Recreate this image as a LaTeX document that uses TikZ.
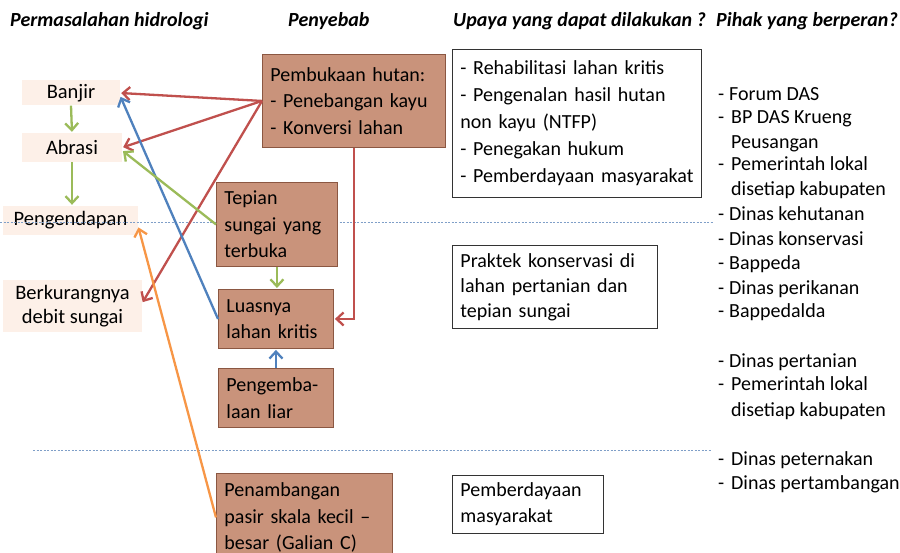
\documentclass[tikz,border=0pt]{standalone}
\usepackage{fontspec}
\setmainfont{Carlito}
\usetikzlibrary{arrows.meta,calc}
\definecolor{cred}{HTML}{C0504D}
\definecolor{cblue}{HTML}{4F81BD}
\definecolor{cgreen}{HTML}{9BBB59}
\definecolor{corange}{HTML}{F79646}
\definecolor{pinkfill}{HTML}{FDF0E8}
\definecolor{brownfill}{HTML}{C9937B}
\definecolor{brownline}{HTML}{8B5742}
\definecolor{dashcol}{HTML}{7F9FC8}
\begin{document}
\begin{tikzpicture}[x=1pt,y=-1pt,
  every node/.style={font=\fontsize{20}{27}\selectfont},
  pinkbox/.style={fill=pinkfill, draw=none, inner sep=0pt, align=center,
    font=\fontsize{20.5}{24}\selectfont},
  brownbox/.style={fill=brownfill, draw=brownline, line width=0.9pt, inner sep=0pt,
    inner xsep=8pt, align=left, anchor=north west, font=\fontsize{20}{26.5}\selectfont},
  whitebox/.style={fill=white, draw=black!80, line width=0.9pt, inner sep=0pt,
    inner xsep=8pt, align=left, anchor=north west},
  heading/.style={anchor=base west, inner sep=0pt, font=\fontsize{20}{24}\selectfont\bfseries\itshape},
  item/.style={anchor=base west, inner sep=0pt},
  arr/.style={line width=2.3pt, -{Straight Barb[length=7pt,width=13pt]}, shorten >=1pt},
  divider/.style={dashcol, line width=0.6pt, dash pattern=on 2pt off 1.5pt}]
\useasboundingbox (0,0) rectangle (900,553);
\fill[white] (0,0) rectangle (900,553);

% headings
\node[heading] (h1) at (10,27) {Permasalahan hidrologi};
\node[heading] (h2) at (288,27) {Penyebab};
\node[heading] (h3) at (453,27) {Upaya yang dapat dilakukan ?};
\node[heading] (h4) at (716,27) {Pihak yang berperan?};

% hydrological problems
\node[pinkbox, minimum width=98pt, minimum height=25pt] (banjir) at (71,93) {Banjir};
\node[pinkbox, minimum width=100pt, minimum height=29pt] (abrasi) at (72,147.5) {Abrasi};
\node[pinkbox, minimum width=135pt, minimum height=29pt] (peng) at (70.5,220.5) {Pengendapan};
\node[pinkbox, minimum width=139pt, minimum height=52pt] (berk) at (72.5,306) {Berkurangnya\\debit sungai};

% dividers
\draw[divider] (0,222) -- (713,222);
\draw[divider] (33,450) -- (712,450);

% causes
\node[brownbox, text width=167pt, minimum height=93pt] (pem) at (262,54)
  {Pembukaan hutan:\\- Penebangan kayu\\- Konversi lahan};
\node[brownbox, text width=105pt, minimum height=84pt] (tep) at (216,182)
  {Tepian\\sungai yang\\terbuka};
\node[brownbox, text width=99pt, minimum height=59pt] (lua) at (218,289)
  {Luasnya\\lahan kritis};
\node[brownbox, text width=99pt, minimum height=59pt] (gemb) at (218,368)
  {Pengemba-\\laan liar};
\node[brownbox, text width=160pt, minimum height=88pt] (tamb) at (216,473)
  {Penambangan\\pasir skala kecil --\\besar (Galian C)};

% efforts
\node[whitebox, text width=233pt, minimum height=148pt] (rehab) at (452,49)
  {- Rehabilitasi lahan kritis\\- Pengenalan hasil hutan\\non kayu (NTFP)\\- Penegakan hukum\\- Pemberdayaan masyarakat};
\node[whitebox, text width=189pt, minimum height=83pt, font=\fontsize{20}{25}\selectfont] (prak) at (452,245)
  {Praktek konservasi di\\lahan pertanian dan\\tepian sungai};
\node[whitebox, text width=135pt, minimum height=58pt, font=\fontsize{20}{26}\selectfont] (pemb) at (452,475)
  {Pemberdayaan\\masyarakat};

% actors
\foreach \yy/\tt [count=\i] in {
  101/{\makebox[11pt][l]{-}Forum DAS},
  124/{\makebox[13pt][l]{-}BP DAS Krueng},
  149/{\hspace{13pt}Peusangan},
  171/{\makebox[13pt][l]{-}Pemerintah lokal},
  196/{\hspace{13pt}disetiap kabupaten},
  221/{\makebox[11pt][l]{-}Dinas kehutanan},
  246/{\makebox[11pt][l]{-}Dinas konservasi},
  270/{\makebox[11pt][l]{-}Bappeda},
  295/{\makebox[11pt][l]{-}Dinas perikanan},
  318/{\makebox[11pt][l]{-}Bappedalda},
  367/{\makebox[11pt][l]{-}Dinas pertanian},
  391/{\makebox[13pt][l]{-}Pemerintah lokal},
  416/{\hspace{13pt}disetiap kabupaten},
  465/{\makebox[13pt][l]{-}Dinas peternakan},
  489/{\makebox[13pt][l]{-}Dinas pertambangan}}
  \node[item] (act\i) at (718,\yy) {\tt};

% connectors
\draw[cred, arr] (pem.west) -- (banjir.east);
\draw[cred, arr] (pem.west) -- (abrasi.east);
\draw[cred, arr] (pem.west) -- ($(berk.east)+(0,-3)$);
\draw[cred, arr] (pem.south) |- (lua.east);
\draw[cblue, arr] (lua.west) -- ($(banjir.east)+(0,3)$);
\draw[cblue, arr] (gemb.north) -- (lua.south);
\draw[cgreen, arr] (banjir.south) -- (abrasi.north);
\draw[cgreen, arr] (abrasi.south) -- (abrasi.south |- peng.north);
\draw[cgreen, arr] (tep.west) -- ($(abrasi.east)+(0,3)$);
\draw[cgreen, arr] (tep.south) -- (tep.south |- lua.north);
\draw[corange, arr] (tamb.west) -- ($(peng.east)+(0,6)$);
\end{tikzpicture}
\end{document}
